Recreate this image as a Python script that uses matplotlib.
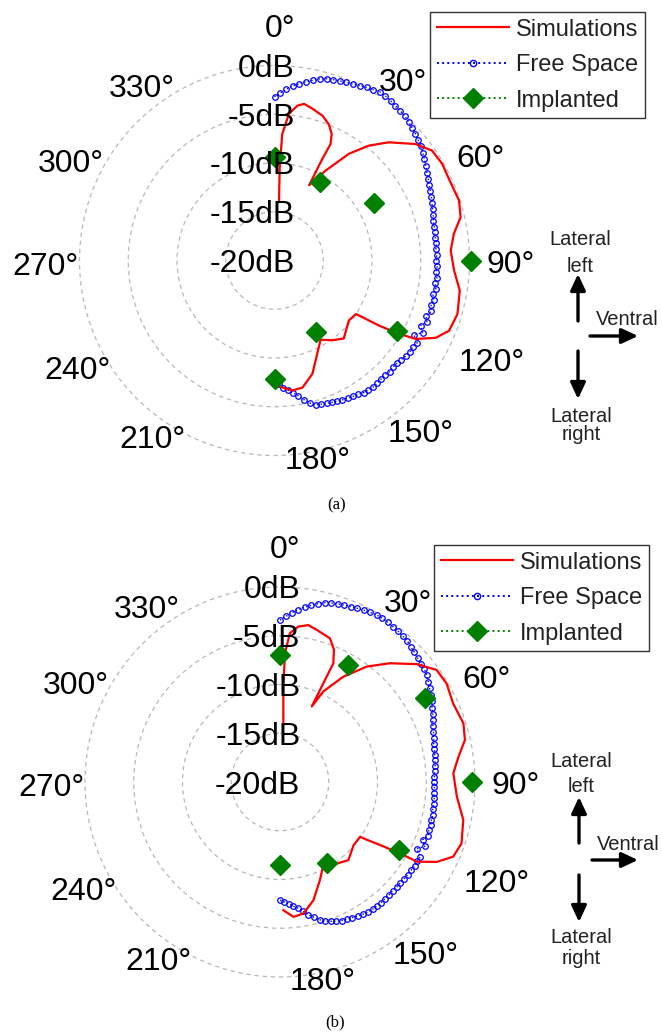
import numpy as np
import matplotlib
matplotlib.use("Agg")
import matplotlib.pyplot as plt
from matplotlib.lines import Line2D
from matplotlib.transforms import offset_copy

plt.rcParams['font.family'] = ['Liberation Sans', 'DejaVu Sans']

# ---------------------------------------------------------------- data
series_names = ["Simulations", "Free Space", "Implanted"]

angle_tick_values = [0, 30, 60, 90, 120, 150, 180, 210, 240, 270, 300, 330]
angle_tick_labels = [f"{a}\u00b0" for a in angle_tick_values]
db_levels = [0, -5, -10, -15, -20]
db_labels = ["0dB", "-5dB", "-10dB", "-15dB", "-20dB"]
ring_levels = [-15, -10, -5, 0]

# free-space measurement, sampled every 2 degrees from 0 to 180
fs_angles = list(range(0, 181, 2))
fs_db_a = [-3.2, -2.8, -2.4, -2.0, -1.7, -1.4, -1.1, -0.8, -0.6, -0.5,
           -0.4, -0.3, -0.2, -0.05, 0.1, 0.25, 0.4, 0.35, 0.25, 0.15,
           0.05, -0.05, -0.2, -0.4, -0.55, -0.75, -0.95, -1.2, -1.45, -1.7,
           -1.95, -2.15, -2.35, -2.5, -2.65, -2.8, -2.95, -3.05, -3.2, -3.25,
           -3.3, -3.35, -3.3, -3.4, -3.35, -3.4, -3.3, -3.4, -3.25, -3.35,
           -3.2, -3.4, -3.15, -3.3, -3.1, -3.45, -3.15, -3.6, -3.1, -3.8,
           -3.1, -3.3, -3.25, -3.35, -3.5, -3.6, -3.65, -3.6, -3.7, -3.65,
           -3.6, -3.55, -3.6, -3.65, -3.8, -3.9, -4.0, -4.1, -4.2, -4.3,
           -4.4, -4.5, -4.6, -4.9, -5.4, -5.9, -6.3, -6.6, -6.9, -7.3, -7.6]
fs_db_b = [-3.4, -3.0, -2.6, -2.25, -1.9, -1.6, -1.3, -1.05, -0.9, -0.8,
           -0.7, -0.6, -0.5, -0.4, -0.3, -0.2, -0.2, -0.25, -0.3, -0.35,
           -0.45, -0.5, -0.7, -0.85, -1.0, -1.1, -1.2, -1.4, -1.65, -1.9,
           -2.15, -2.4, -2.65, -2.85, -3.1, -3.3, -3.45, -3.6, -3.75, -3.8,
           -3.9, -3.95, -4.0, -4.1, -4.15, -4.2, -4.15, -4.2, -4.1, -4.05,
           -4.1, -3.95, -4.0, -3.9, -3.95, -3.85, -4.2, -3.75, -4.4, -3.7,
           -3.75, -3.7, -3.8, -3.8, -3.85, -3.9, -3.9, -3.95, -3.9, -3.9,
           -3.85, -3.9, -3.85, -3.9, -4.0, -4.1, -4.25, -4.35, -4.45, -4.6,
           -4.8, -5.0, -5.3, -5.7, -6.1, -6.55, -6.95, -7.2, -7.5, -7.7, -7.9]

# simulated pattern (angle in degrees, gain in dB)
sim_angles_a = [4.3, 3.2, 3.5, 5.6, 8.4, 10.7, 14.0, 18.3, 21.7, 24.3,
                25.7, 25.2, 24.7, 29.6, 34.9, 39.4, 44.0, 50.4, 55.1, 60.0,
                66.0, 72.0, 76.9, 81.5, 86.8, 93.2, 99.2, 106.3, 111.9, 115.6,
                119.0, 120.5, 121.9, 122.8, 123.3, 128.9, 138.4, 144.1, 149.8, 155.3,
                161.5, 167.6, 172.2, 176.5, 178.0]
sim_db_a = [-13.8, -10.4, -7.0, -4.9, -3.95, -3.65, -3.95, -4.35, -4.95, -5.75,
            -6.75, -8.5, -11.5, -9.4, -6.65, -4.75, -3.15, -1.25, -0.3, -0.15,
            -0.25, -0.1, -0.4, -1.4, -1.9, -1.55, -0.75, -0.45, -0.7, -1.65,
            -3.4, -5.15, -7.35, -9.25, -10.0, -10.2, -9.3, -9.9, -10.6, -9.5,
            -7.75, -6.65, -6.55, -6.95, -7.15]
sim_angles_b = [3.3, 2.0, 2.2, 3.8, 6.7, 10.2, 13.6, 19.2, 22.2, 24.2,
                23.7, 22.8, 25.6, 31.0, 36.9, 42.8, 49.2, 54.4, 59.4, 65.6,
                72.3, 77.2, 81.9, 87.1, 94.7, 101.7, 108.7, 113.3, 117.0, 120.2,
                120.7, 122.2, 124.0, 124.3, 130.7, 138.8, 145.1, 152.4, 157.8, 164.2,
                169.9, 174.3, 178.5]
sim_db_b = [-14.0, -10.2, -6.8, -4.7, -3.95, -3.65, -3.95, -4.4, -5.35, -6.65,
            -8.95, -11.6, -9.7, -7.4, -5.2, -3.4, -1.5, -0.25, -0.15, -0.5,
            -0.25, -0.55, -1.5, -2.2, -1.8, -0.8, -0.35, -0.65, -1.95, -3.75,
            -5.65, -7.85, -9.65, -10.05, -10.05, -9.35, -9.8, -10.4, -9.15, -7.4,
            -6.3, -6.1, -6.85]

# implanted measurement every 30 degrees
imp_angles = [0, 30, 60, 90, 120, 150, 180]
imp_db_a = [-9.35, -10.7, -8.2, 0.2, -5.5, -11.5, -7.85]
imp_db_b = [-7.0, -6.1, -2.85, -0.35, -5.95, -10.35, -11.5]

# ---------------------------------------------------------------- layout
W, H, DPI = 662, 1032, 100
R_MIN, R_MAX = -20, 1
PX_PER_DB = 9.75
GREEN = (0.0, 0.5, 0.0)
BIG = 23
# angle-label offsets from the pole, in pixels (x right, y down)
label_offsets = [(5, -235), (128, -181), (206, -105), (236, 1), (217, 99),
                 (146, 170), (43, 197), (-122, 176), (-197, 107), (-229, 3),
                 (-204, -100), (-133, -175)]

fig = plt.figure(figsize=(W / DPI, H / DPI), dpi=DPI)


def px(x, y):
    """image pixel (y down) -> figure pixels (y up)"""
    return (x, H - y)


def panel(center, sim_a, sim_d, fs_d, imp_d, legend_xy, side, caption, cap_xy):
    cx, cy = center
    rad = (R_MAX - R_MIN) * PX_PER_DB
    ax = fig.add_axes([(cx - rad) / W, (H - cy - rad) / H, 2 * rad / W, 2 * rad / H],
                      projection='polar')
    ax.set_theta_zero_location('N')
    ax.set_theta_direction(-1)
    ax.set_ylim(R_MIN, R_MAX)
    ax.set_xticks([])
    ax.xaxis.grid(False)
    ax.set_yticks(ring_levels)
    ax.set_yticklabels([])
    ax.yaxis.grid(True, color='#b8b8b8', linestyle=(0, (3.5, 3)), linewidth=0.9)
    ax.spines['polar'].set_visible(False)
    ax.patch.set_alpha(0)

    ax.plot(np.deg2rad(sim_a), sim_d, color='red', lw=1.6, zorder=4)
    ax.plot(np.deg2rad(fs_angles), fs_d, color='blue', ls=':', lw=1.0,
            marker='o', ms=4.0, mfc='none', mew=0.9, zorder=3)
    ax.plot(np.deg2rad(imp_angles), imp_d, ls='none', marker='D', ms=10.5,
            color=GREEN, zorder=5, clip_on=False)

    for lvl, txt in zip(db_levels, db_labels):
        tr = offset_copy(ax.transData, fig=fig, x=20.5, y=0, units='dots')
        ax.text(0, lvl, txt, transform=tr, ha='right', va='center_baseline',
                fontsize=BIG, zorder=6)
    for lab, (dx, dy) in zip(angle_tick_labels, label_offsets):
        tr = offset_copy(ax.transData, fig=fig, x=dx, y=-dy, units='dots')
        ax.text(0, R_MIN, lab, transform=tr, ha='center', va='center_baseline',
                fontsize=BIG)

    handles = [Line2D([], [], color='red', lw=1.6),
               Line2D([], [], color='blue', ls=':', lw=1.4, marker='o', ms=4.5,
                      mfc='none', mew=1.0),
               Line2D([], [], color=GREEN, ls=':', lw=1.4, marker='D', ms=10)]
    lx, ly = legend_xy
    leg = fig.legend(handles, series_names, loc='upper left',
                     bbox_to_anchor=(lx / W, 1 - ly / H), borderaxespad=0,
                     fontsize=17, frameon=True, fancybox=False, handlelength=3.05,
                     handletextpad=0.3, labelspacing=0.57, borderpad=0.28,
                     numpoints=1)
    fr = leg.get_frame()
    fr.set_edgecolor('black')
    fr.set_linewidth(1.0)
    for t in leg.get_texts():
        t.set_color('#222222')

    # anatomical orientation arrows
    ux, u0, u1, rx0, rx1, ry, d0, d1 = side['arrows']
    arrow_kw = dict(arrowstyle='-|>,head_length=0.75,head_width=0.35',
                    color='black', lw=2.4, mutation_scale=13,
                    shrinkA=0, shrinkB=0)
    for a, b in [((ux, u0), (ux, u1)), ((rx0, ry), (rx1, ry)), ((ux, d0), (ux, d1))]:
        ax.annotate('', xy=px(*b), xytext=px(*a), xycoords='figure pixels',
                    textcoords='figure pixels', arrowprops=arrow_kw,
                    annotation_clip=False)
    for txt, (x, y) in side['texts']:
        fig.text(x / W, 1 - y / H, txt, ha='center', va='baseline',
                 fontsize=14.5, color='#222222')

    fig.text(cap_xy[0] / W, 1 - cap_xy[1] / H, caption, ha='center', va='center',
             fontsize=12, family='Liberation Serif')


panel((274.5, 260.5), sim_angles_a, sim_db_a, fs_db_a, imp_db_a, (430, 12),
      {'arrows': (578, 321, 274, 590, 638, 336, 351, 399),
       'texts': [("Lateral", (580, 245)), ("left", (580, 272)),
                 ("Ventral", (627, 325)), ("Lateral", (581, 422)),
                 ("right", (581, 440))]},
      "(a)", (337, 505))
panel((280, 782), sim_angles_b, sim_db_b, fs_db_b, imp_db_b, (434, 545),
      {'arrows': (579, 843, 797, 592, 638, 860, 875, 922),
       'texts': [("Lateral", (581, 767)), ("left", (581, 792)),
                 ("Ventral", (628, 850)), ("Lateral", (581, 943)),
                 ("right", (581, 964))]},
      "(b)", (335, 1022))

fig.savefig("out.png", dpi=DPI)
